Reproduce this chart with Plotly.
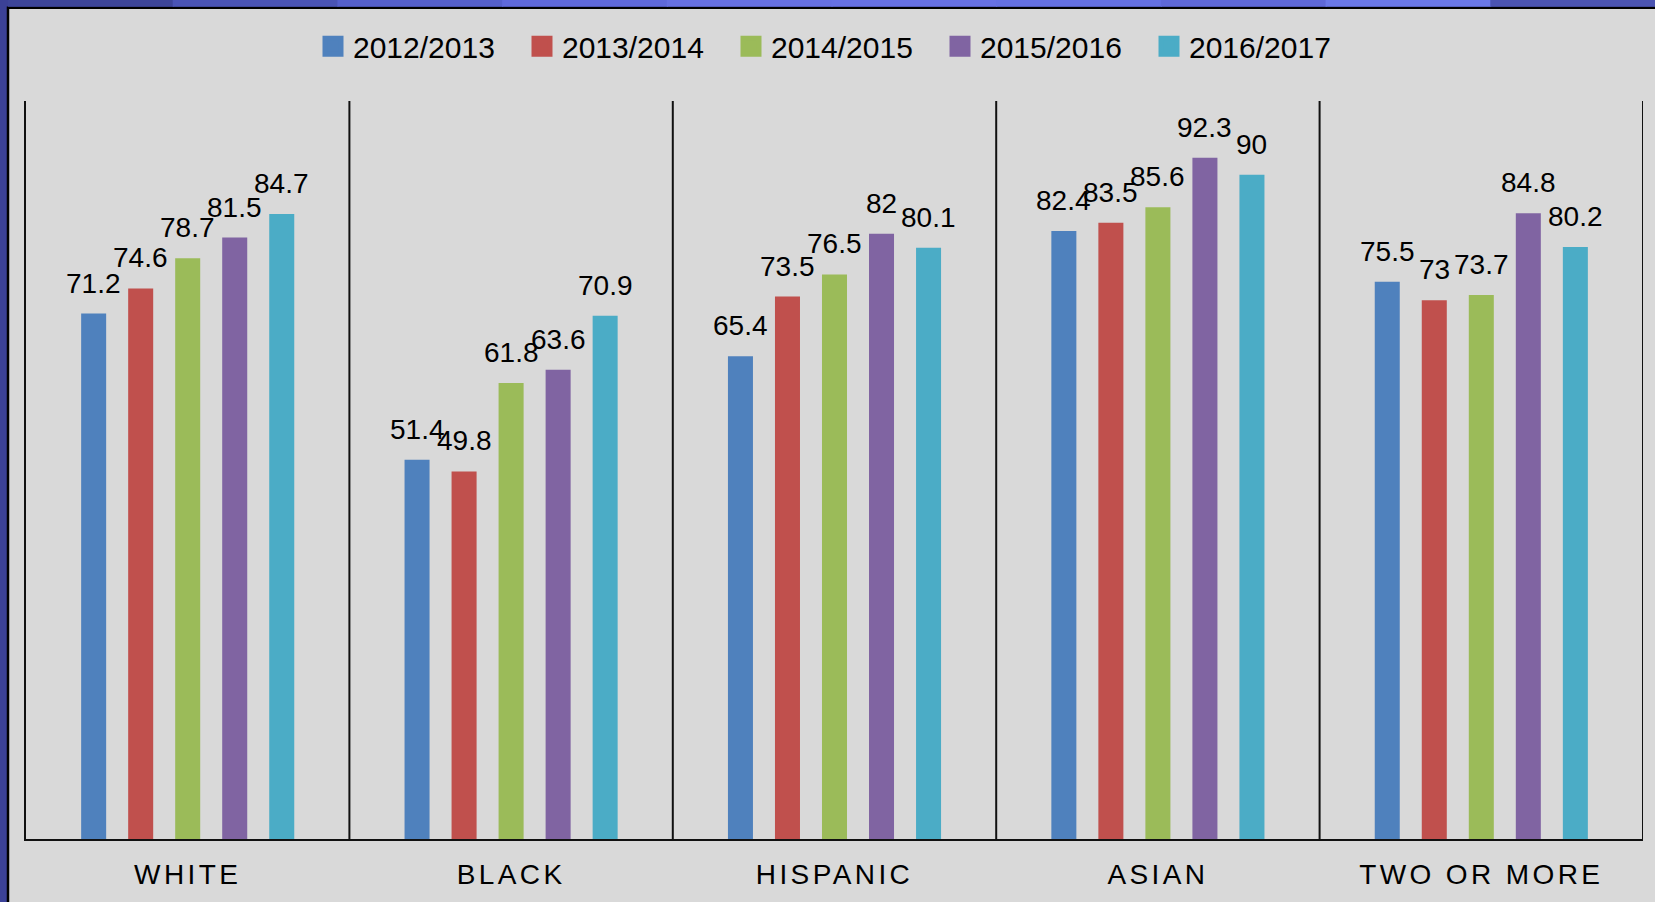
import plotly.graph_objects as go

categories = ["WHITE", "BLACK", "HISPANIC", "ASIAN", "TWO OR MORE"]
years = ["2012/2013", "2013/2014", "2014/2015", "2015/2016", "2016/2017"]
colors = ["#4F81BD", "#C0504D", "#9BBB59", "#8064A2", "#4BACC6"]

v_2012_2013 = [71.2, 51.4, 65.4, 82.4, 75.5]
v_2013_2014 = [74.6, 49.8, 73.5, 83.5, 73]
v_2014_2015 = [78.7, 61.8, 76.5, 85.6, 73.7]
v_2015_2016 = [81.5, 63.6, 82, 92.3, 84.8]
v_2016_2017 = [84.7, 70.9, 80.1, 90, 80.2]
series = [v_2012_2013, v_2013_2014, v_2014_2015, v_2015_2016, v_2016_2017]

W, H = 1655, 902
ML, MR, MT, MB = 26, 12, 101, 58
PW, PH = W - ML - MR, H - MT - MB
BARGAP = 0.273
BARGROUPGAP = 0.468
FONT = "Liberation Sans, Arial, sans-serif"


def px_x(p):
    return (p - ML) / PW


def px_y(p):
    return (H - MB - p) / PH


fig = go.Figure()

for name, vals, col in zip(years, series, colors):
    fig.add_trace(go.Bar(
        x=categories, y=vals, name=name, marker=dict(color=col, line=dict(width=0)),
        showlegend=False, hoverinfo="x+y+name",
    ))

# legend entries (larger square symbols)
for name, col in zip(years, colors):
    fig.add_trace(go.Scatter(
        x=[None], y=[None], name=name, mode="markers",
        marker=dict(symbol="square", size=16, color=col, line=dict(color=col, width=5)),
        showlegend=True,
    ))

# value labels above bars
n = len(series)
slot = (1 - BARGAP) / n
annotations = []
for j, vals in enumerate(series):
    for i, v in enumerate(vals):
        annotations.append(dict(
            x=i + (j - (n - 1) / 2) * slot, y=v, xref="x", yref="y",
            text=f"{v:g}", showarrow=False, yanchor="bottom", xanchor="center",
            yshift=13, font=dict(size=28, color="#000000", family=FONT),
        ))

shapes = []
# frame: gray panel with black edge over blue paper
shapes.append(dict(type="rect", xref="paper", yref="paper",
                   x0=px_x(8), x1=px_x(W + 20), y0=px_y(7), y1=px_y(H + 20),
                   fillcolor="#d9d9d9", line=dict(color="#000000", width=2.5), layer="below"))
# top blue strip gradient segments
top_cols = ["#3d4599", "#4a54b5", "#5560cc", "#5f69db", "#6670e2", "#6771e4", "#6470e2",
            "#5e68d8", "#6a78e8", "#4b54b2"]
seg = (W - 8) / len(top_cols)
for k, c in enumerate(top_cols):
    shapes.append(dict(type="rect", xref="paper", yref="paper",
                       x0=px_x(8 + k * seg), x1=px_x(8 + (k + 1) * seg + 1),
                       y0=px_y(6), y1=px_y(-2), fillcolor=c, line=dict(width=0), layer="below"))
# category separators and right border
for k in range(len(categories)):
    shapes.append(dict(type="line", xref="x", yref="paper", x0=k + 0.5, x1=k + 0.5,
                       y0=0, y1=1, line=dict(color="#111111", width=2)))

ticktext = [f'<span style="letter-spacing:3.4px">{c}</span>' for c in categories]

fig.update_layout(
    width=W, height=H,
    margin=dict(l=ML, r=MR, t=MT, b=MB, pad=0),
    paper_bgcolor="#3b4197",
    plot_bgcolor="rgba(0,0,0,0)",
    barmode="group", bargap=BARGAP, bargroupgap=BARGROUPGAP,
    font=dict(family=FONT, color="#000000"),
    showlegend=True,
    legend=dict(orientation="h", x=px_x(313), xanchor="left", y=px_y(46), yanchor="middle",
                font=dict(size=30, family=FONT, color="#000000"),
                entrywidth=164, entrywidthmode="pixels", bgcolor="rgba(0,0,0,0)",
                borderwidth=0, traceorder="normal"),
    xaxis=dict(type="category", tickmode="array", tickvals=categories, ticktext=ticktext,
               showline=True, linecolor="#111111", linewidth=2, ticks="", showgrid=False,
               zeroline=False, tickfont=dict(size=28, family=FONT, color="#000000"),
               ticklabelstandoff=9,
               range=[-0.5, len(categories) - 0.5], fixedrange=True),
    yaxis=dict(range=[0, 100], showticklabels=False, showgrid=False, zeroline=False,
               showline=True, linecolor="#111111", linewidth=2, ticks="", fixedrange=True),
    shapes=shapes,
    annotations=annotations,
)

fig.write_html("out.html", config={"displayModeBar": False},
               post_script="document.body.style.margin='0';document.body.style.overflow='hidden';")
